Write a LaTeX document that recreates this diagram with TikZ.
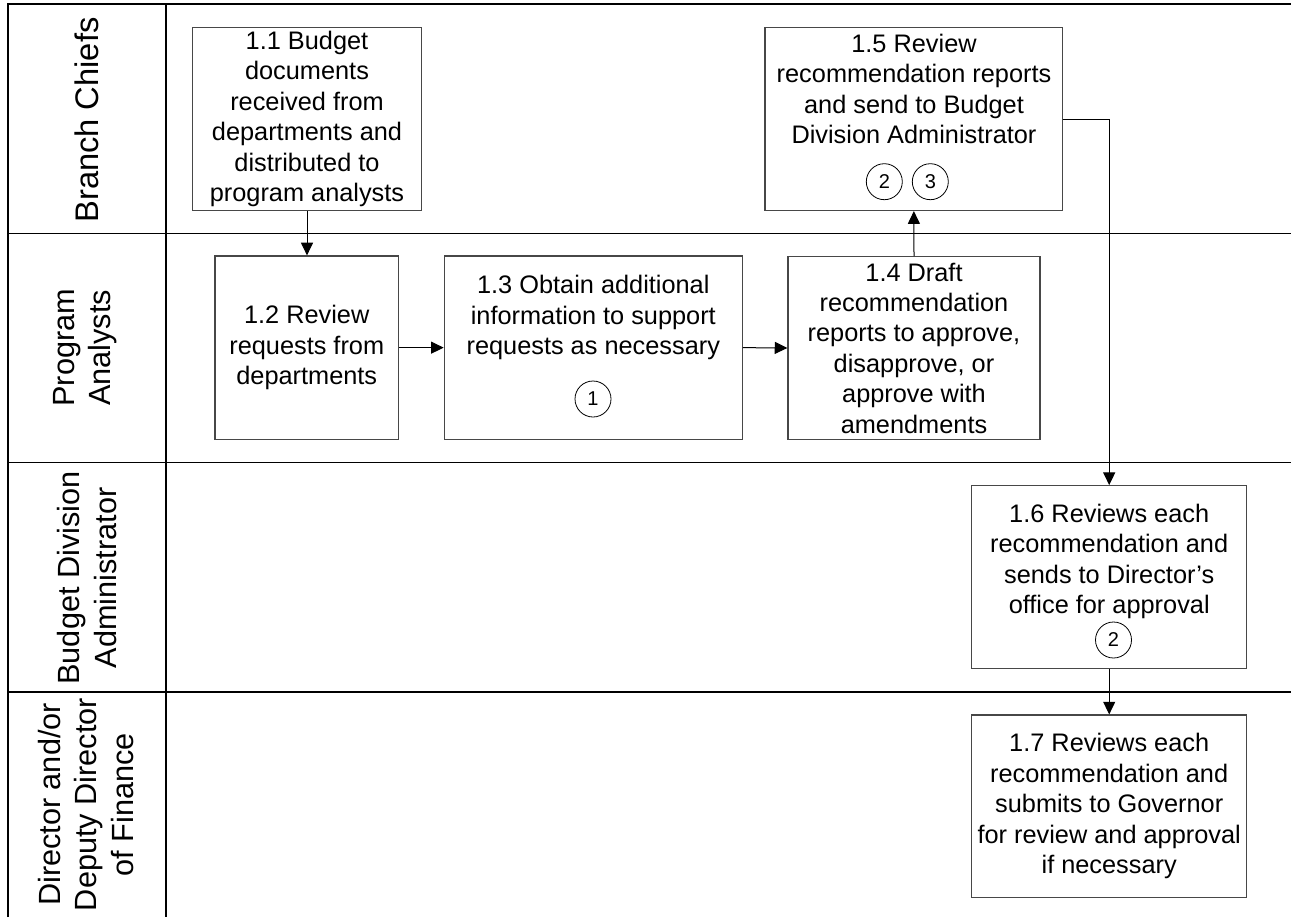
\documentclass[tikz,border=0pt]{standalone}
\usepackage{fontspec}
\setmainfont{Liberation Sans}
\usetikzlibrary{arrows.meta}
\begin{document}
\begin{tikzpicture}[x=0.75pt,y=-0.75pt,
  laneline/.style={line width=1.2pt,draw=black},
  stepbox/.style={draw=black!72,line width=0.9pt,inner sep=0pt,align=center,
    font=\fontsize{19}{22.8}\selectfont},
  steptext/.style={inner sep=0pt,align=center,font=\fontsize{19}{22.8}\selectfont},
  marker/.style={circle,draw=black,line width=0.6pt,minimum size=27pt,inner sep=0pt,
    font=\fontsize{15}{17}\selectfont},
  flow/.style={line width=0.75pt,-{Triangle[length=9.5pt,width=9pt]}},
  lanelabel/.style={rotate=90,align=center,inner sep=0pt,font=\fontsize{23}{27.5}\selectfont}]

\useasboundingbox (0,0) rectangle (1291,917);

% swimlane frame
\draw[laneline] (8,917) -- (8,4) -- (1291,4);
\draw[laneline] (165.7,4) -- (165.7,917);
\draw[laneline] (8,233.3) -- (1291,233.3);
\draw[laneline] (8,462.3) -- (1291,462.3);
\draw[laneline] (8,691.7) -- (1291,691.7);

% lane titles
\node[lanelabel, font=\fontsize{24.5}{27.5}\selectfont] (lbc) at (87,120) {Branch Chiefs};
\node[lanelabel] (lpa) at (85,347.8) {Program\\Analysts};
\node[lanelabel] (lbd) at (87,578) {Budget Division\\Administrator};
\node[lanelabel] (ldf) at (86,804.5) {Director and/or\\Deputy Director\\of Finance};

% process steps
\node[stepbox, minimum width=172.05pt, minimum height=137.25pt] (n11) at (307,119)
  {1.1 Budget\\documents\\received from\\departments and\\distributed to\\program analysts};
\node[stepbox, minimum width=137.6pt, minimum height=137.5pt] (n12) at (306.75,347.65)
  {1.2 Review\\requests from\\departments};
\node[stepbox, minimum width=223.5pt, minimum height=137.5pt] (n13) at (593.3,347.65) {};
\node[steptext] (t13) at (593.3,317.5)
  {1.3 Obtain additional\\information to support\\requests as necessary};
\node[marker] (m1) at (593,399) {1};
\node[stepbox, minimum width=189pt, minimum height=136.95pt] (n14) at (914,347.98)
  {1.4 Draft\\recommendation\\reports to approve,\\disapprove, or\\approve with\\amendments};
\node[stepbox, minimum width=223.3pt, minimum height=137.25pt] (n15) at (913.85,119) {};
\node[steptext] (t15) at (914,89)
  {1.5 Review\\recommendation reports\\and send to Budget\\Division Administrator};
\node[marker] (m2a) at (884.3,181.7) {2};
\node[marker] (m3) at (930.3,181.7) {3};
\node[stepbox, minimum width=206.25pt, minimum height=136.95pt] (n16) at (1109.2,577) {};
\node[steptext] (t16) at (1109.2,561.5)
  {1.6 Reviews each\\recommendation and\\sends to Director’s\\office for approval};
\node[marker] (m2b) at (1113.5,640) {2};
\node[stepbox, minimum width=206.25pt, minimum height=136.7pt] (n17) at (1109.2,806.15)
  {1.7 Reviews each\\recommendation and\\submits to Governor\\for review and approval\\if necessary};

% flow connectors
\draw[flow] (n11.south) -- (n11.south |- n12.north);
\draw[flow] (n12.east) -- (n13.west);
\draw[flow] (n13.east) -- (n14.west);
\draw[flow] (n14.north) -- (n15.south);
\draw[flow] (n15.east) -| (n16.north);
\draw[flow] (n16.south) -- (n17.north);
\end{tikzpicture}
\end{document}
